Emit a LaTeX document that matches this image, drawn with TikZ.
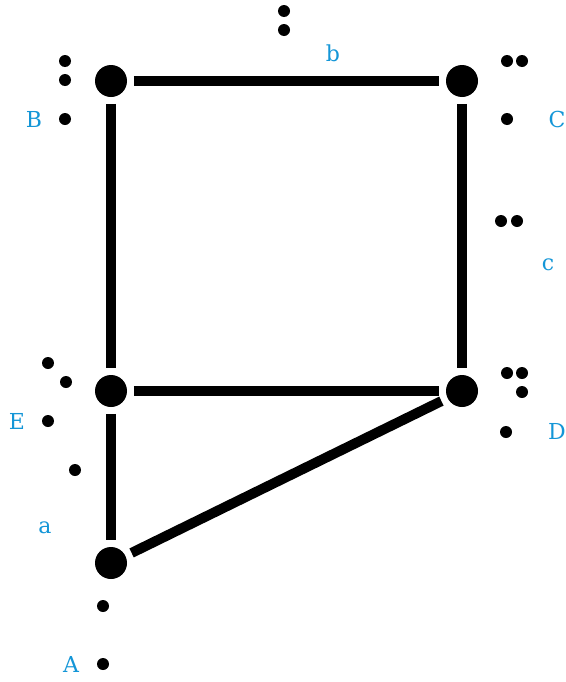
\documentclass[tikz,border=0pt]{standalone}
\usepackage{fontspec}
\setmainfont{DejaVu Serif}
\definecolor{lblue}{RGB}{20,150,215}
\begin{document}
\begin{tikzpicture}[x=0.75pt,y=-0.75pt,
  bigdot/.style={circle,fill=black,inner sep=0pt,minimum size=24pt},
  sdot/.style={circle,fill=black,inner sep=0pt,minimum size=9pt},
  lbl/.style={text=lblue,font=\fontsize{16.5}{18}\selectfont,inner sep=0pt},
  edge/.style={line width=7.5pt,shorten <=5pt,shorten >=5pt}]
\useasboundingbox (0,0) rectangle (565,682);
\node[bigdot] (nB) at (111,81) {};
\node[bigdot] (nC) at (462,81) {};
\node[bigdot] (nE) at (111,391) {};
\node[bigdot] (nD) at (462,391) {};
\node[bigdot] (nA) at (111,563) {};
\draw[edge] (nB) -- (nC);
\draw[edge] (nB) -- (nE);
\draw[edge] (nC) -- (nD);
\draw[edge] (nE) -- (nD);
\draw[edge] (nE) -- (nA);
\draw[edge] (nA) -- (nD);
% small dots
\node[sdot] (d1) at (65,61) {};
\node[sdot] (d2) at (65,80) {};
\node[sdot] (d3) at (65,119) {};
\node[sdot] (d4) at (284,11) {};
\node[sdot] (d5) at (284,30) {};
\node[sdot] (d6) at (507,61) {};
\node[sdot] (d7) at (522,61) {};
\node[sdot] (d8) at (507,119) {};
\node[sdot] (d9) at (501,221) {};
\node[sdot] (d10) at (517,221) {};
\node[sdot] (d11) at (507,373) {};
\node[sdot] (d12) at (522,373) {};
\node[sdot] (d13) at (522,392) {};
\node[sdot] (d14) at (506,432) {};
\node[sdot] (d15) at (48,363) {};
\node[sdot] (d16) at (66,382) {};
\node[sdot] (d17) at (48,421) {};
\node[sdot] (d18) at (75,470) {};
\node[sdot] (d19) at (103,606) {};
\node[sdot] (d20) at (103,664) {};
% labels
\node[lbl] (lB) at (34,119) {B};
\node[lbl] (lb) at (333,53) {b};
\node[lbl] (lC) at (557,119) {C};
\node[lbl] (lc) at (548,265) {c};
\node[lbl] (lD) at (557,431) {D};
\node[lbl] (lE) at (17,421) {E};
\node[lbl] (la) at (45,528) {a};
\node[lbl] (lA) at (71,664) {A};
\end{tikzpicture}
\end{document}
